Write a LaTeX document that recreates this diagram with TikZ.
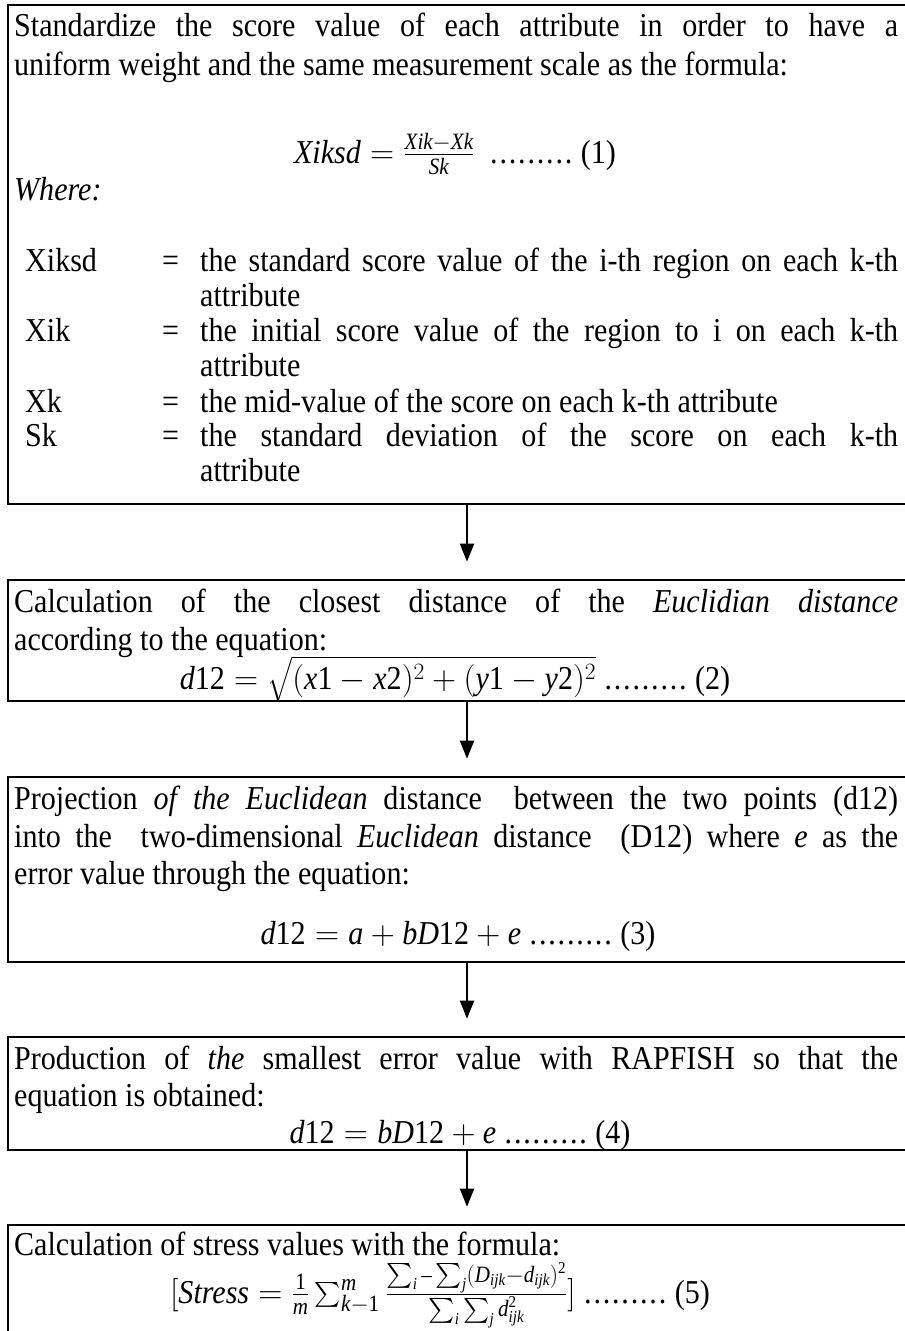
\RequirePackage{fix-cm}
\documentclass[tikz,border=0pt]{standalone}
\usepackage{amsmath}
\usepackage{fontspec}
\setmainfont[FakeStretch=0.9]{Liberation Serif}
\usetikzlibrary{arrows.meta,positioning}

% one justified line of a given width
\newcommand{\fullline}[2]{\makebox[#1pt][s]{#2}}
% italic letters of the formulas
\newcommand{\mvar}[1]{\textit{#1}}
% the dot leader before the equation number
\newcommand{\dotrun}{\makebox[84pt]{\leaders\hbox to 9.33pt{\hss.\hss}\hfill}}

\tikzset{
  stepframe/.style={draw,line width=2.6pt,minimum width=918pt,inner sep=0pt},
  txt/.style={anchor=base west,inner sep=0pt,font=\fontsize{33.4}{40}\selectfont},
  eqn/.style={txt,anchor=base},
  flow/.style={-{Triangle[length=18pt,width=14pt]},line width=2pt,shorten >=17pt}
}

\begin{document}
\begin{tikzpicture}[x=1pt,y=-1pt]
  \useasboundingbox (0,0) rectangle (905,1331);
  % frames
  \node[stepframe,minimum height=499pt] (std) at (467,254.5) {};
  \node[stepframe,minimum height=121pt] (eucl) at (467,640.5) {};
  \node[stepframe,minimum height=185pt] (proj) at (467,869.5) {};
  \node[stepframe,minimum height=113pt] (rapf) at (467,1093.5) {};
  \node[stepframe,minimum height=120pt] (strs) at (467,1285) {};
  \draw[flow] (std) -- (eucl);
  \draw[flow] (eucl) -- (proj);
  \draw[flow] (proj) -- (rapf);
  \draw[flow] (rapf) -- (strs);

  % step 1
  \node[txt] (std1) at (14,36) {\fullline{884}{Standardize the score value of each attribute in order to have a}};
  \node[txt] (std2) at (14,75) {uniform weight and the same measurement scale as the formula:};
  \node[eqn] (std3) at (455,163) {$\textstyle \mvar{Xiksd}=\frac{\mvar{Xik}-\mvar{Xk}}{\mvar{Sk}}$\ \ \dotrun\ (1)};
  \node[txt] (std4) at (14,200) {\textit{Where:}};
  \node[txt] (xa) at (25,271) {Xiksd};
  \node[txt] (xb) at (25,341) {Xik};
  \node[txt] (xc) at (25,412) {Xk};
  \node[txt] (xd) at (25,446) {Sk};
  \foreach \yy/\nm in {271/ea,341/eb,412/ec,446/ed}
    \node[txt] (\nm) at (162,\yy) {=};
  \node[txt] (da1) at (200,271) {\fullline{698}{the standard score value of the i-th region on each k-th}};
  \node[txt] (da2) at (200,306) {attribute};
  \node[txt] (db1) at (200,341) {\fullline{698}{the initial score value of the region to i on each k-th}};
  \node[txt] (db2) at (200,376) {attribute};
  \node[txt] (dc1) at (200,412) {the mid-value of the score on each k-th attribute};
  \node[txt] (dd1) at (200,446) {\fullline{698}{the standard deviation of the score on each k-th}};
  \node[txt] (dd2) at (200,481) {attribute};

  % step 2
  \node[txt] (eu1) at (14,612) {\fullline{884}{Calculation of the closest distance of the \textit{Euclidian distance}}};
  \node[txt] (eu2) at (14,650) {according to the equation:};
  \node[eqn] (eu3) at (455,689) {$\mvar{d}\textup{12}=\sqrt{(\mvar{x}\textup{1}-\mvar{x}\textup{2})^2+(\mvar{y}\textup{1}-\mvar{y}\textup{2})^2}$ \dotrun\ (2)};

  % step 3
  \node[txt] (pr1) at (14,809) {\fullline{884}{Projection \textit{of the Euclidean} distance\ \ between the two points (d12)}};
  \node[txt] (pr2) at (14,847) {\fullline{884}{into the\ \ two-dimensional \textit{Euclidean} distance\ \ (D12) where \textit{e} as the}};
  \node[txt] (pr3) at (14,884) {error value through the equation:};
  \node[eqn] (pr4) at (458,944) {$\mvar{d}\textup{12}=\mvar{a}+\mvar{bD}\textup{12}+\mvar{e}$ \dotrun\ (3)};

  % step 4
  \node[txt] (ra1) at (14,1069) {\fullline{884}{Production of \textit{the} smallest error value with RAPFISH so that the}};
  \node[txt] (ra2) at (14,1106) {equation is obtained:};
  \node[eqn] (ra3) at (460,1143) {$\mvar{d}\textup{12}=\mvar{bD}\textup{12}+\mvar{e}$ \dotrun\ (4)};

  % step 5
  \node[txt] (st1) at (14,1255) {Calculation of stress values with the formula:};
  \node[eqn] (st2) at (440,1303) {$\textstyle [\mvar{Stress}=\frac{\textup{1}}{\mvar{m}}\sum_{\mvar{k}-\textup{1}}^{\mvar{m}}\frac{\sum_{\mvar{i}}\text{--}\sum_{\mvar{j}}(\mvar{D}_{\mvar{ijk}}-\mvar{d}_{\mvar{ijk}})^{\textup{2}}}{\sum_{\mvar{i}}\sum_{\mvar{j}}\mvar{d}_{\mvar{ijk}}^{\textup{2}}}]$ \dotrun\ (5)};
\end{tikzpicture}
\end{document}
